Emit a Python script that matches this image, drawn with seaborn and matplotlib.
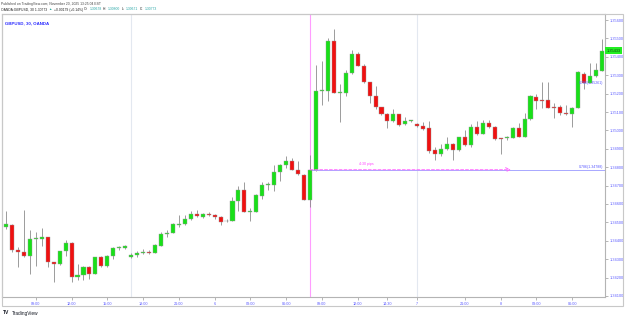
import matplotlib
matplotlib.use("Agg")
import matplotlib.pyplot as plt
import matplotlib.transforms as mtransforms
import numpy as np
import pandas as pd
import seaborn as sns
from matplotlib.patches import Rectangle

# GBPUSD 30 min candles
opens = [1.34472, 1.34487, 1.34351, 1.34336, 1.34315, 1.34409, 1.34409, 1.34420, 1.34284, 1.34271,
         1.34342, 1.34388, 1.34201, 1.34212, 1.34255, 1.34221, 1.34311, 1.34260, 1.34315, 1.34360,
         1.34362, 1.34311, 1.34320, 1.34333, 1.34339, 1.34333, 1.34374, 1.34438, 1.34442, 1.34487,
         1.34492, 1.34518, 1.34545, 1.34529, 1.34547, 1.34541, 1.34527, 1.34505, 1.34510, 1.34617,
         1.34675, 1.34556, 1.34556, 1.34643, 1.34702, 1.34702, 1.34773, 1.34813, 1.34833, 1.34786,
         1.34758, 1.34619, 1.34786, 1.35215, 1.35216, 1.35486, 1.35202, 1.35205, 1.35314, 1.35415,
         1.35352, 1.35265, 1.35189, 1.35126, 1.35088, 1.35052, 1.35088, 1.35034, 1.35050, 1.35035,
         1.35026, 1.35015, 1.34894, 1.34871, 1.34898, 1.34925, 1.34894, 1.34963, 1.34921, 1.35017,
         1.34981, 1.35039, 1.35021, 1.34958, 1.34958, 1.34961, 1.35015, 1.34966, 1.35062, 1.35184,
         1.35166, 1.35166, 1.35126, 1.35126, 1.35093, 1.35090, 1.35120, 1.35307, 1.35260, 1.35296,
         1.35325]
highs = [1.34559, 1.34491, 1.34367, 1.34568, 1.34456, 1.34445, 1.34469, 1.34422, 1.34286, 1.34343,
         1.34405, 1.34391, 1.34273, 1.34260, 1.34260, 1.34313, 1.34315, 1.34320, 1.34364, 1.34374,
         1.34378, 1.34333, 1.34342, 1.34357, 1.34351, 1.34380, 1.34450, 1.34460, 1.34499, 1.34541,
         1.34541, 1.34559, 1.34568, 1.34550, 1.34554, 1.34545, 1.34532, 1.34518, 1.34640, 1.34695,
         1.34719, 1.34577, 1.34654, 1.34719, 1.34722, 1.34813, 1.34816, 1.34862, 1.34849, 1.34834,
         1.34762, 1.34867, 1.35356, 1.35379, 1.35501, 1.35551, 1.35252, 1.35328, 1.35437, 1.35426,
         1.35361, 1.35265, 1.35242, 1.35129, 1.35093, 1.35117, 1.35088, 1.35075, 1.35055, 1.35039,
         1.35048, 1.35052, 1.34912, 1.34925, 1.34963, 1.34930, 1.34966, 1.35003, 1.35034, 1.35052,
         1.35057, 1.35057, 1.35024, 1.34958, 1.34970, 1.35021, 1.35039, 1.35093, 1.35193, 1.35198,
         1.35265, 1.35265, 1.35151, 1.35138, 1.35138, 1.35129, 1.35325, 1.35316, 1.35365, 1.35368,
         1.35495]
lows = [1.34465, 1.34340, 1.34259, 1.34313, 1.34221, 1.34260, 1.34374, 1.34257, 1.34176, 1.34270,
        1.34315, 1.34176, 1.34188, 1.34188, 1.34194, 1.34219, 1.34257, 1.34259, 1.34302, 1.34351,
        1.34357, 1.34306, 1.34311, 1.34328, 1.34328, 1.34331, 1.34374, 1.34423, 1.34442, 1.34474,
        1.34487, 1.34514, 1.34529, 1.34523, 1.34536, 1.34519, 1.34485, 1.34502, 1.34510, 1.34564,
        1.34556, 1.34505, 1.34556, 1.34626, 1.34677, 1.34673, 1.34726, 1.34795, 1.34782, 1.34758,
        1.34619, 1.34583, 1.34780, 1.35138, 1.35162, 1.35202, 1.35048, 1.35187, 1.35307, 1.35352,
        1.35256, 1.35151, 1.35115, 1.35084, 1.35012, 1.35048, 1.35024, 1.35030, 1.35048, 1.35021,
        1.35003, 1.34876, 1.34840, 1.34863, 1.34894, 1.34840, 1.34890, 1.34917, 1.34912, 1.34976,
        1.34979, 1.35012, 1.34948, 1.34871, 1.34948, 1.34958, 1.34966, 1.34966, 1.35057, 1.35115,
        1.35120, 1.35120, 1.35066, 1.35084, 1.35084, 1.35021, 1.35120, 1.35224, 1.35256, 1.35292,
        1.35325]
closes = [1.34491, 1.34347, 1.34336, 1.34315, 1.34411, 1.34416, 1.34422, 1.34282, 1.34271, 1.34342,
          1.34388, 1.34201, 1.34215, 1.34255, 1.34221, 1.34311, 1.34260, 1.34318, 1.34360, 1.34366,
          1.34369, 1.34324, 1.34333, 1.34340, 1.34335, 1.34378, 1.34438, 1.34443, 1.34492, 1.34492,
          1.34519, 1.34547, 1.34532, 1.34545, 1.34540, 1.34527, 1.34503, 1.34510, 1.34617, 1.34675,
          1.34556, 1.34559, 1.34646, 1.34704, 1.34706, 1.34773, 1.34813, 1.34833, 1.34786, 1.34762,
          1.34619, 1.34786, 1.35215, 1.35220, 1.35486, 1.35202, 1.35207, 1.35314, 1.35415, 1.35352,
          1.35262, 1.35189, 1.35129, 1.35090, 1.35052, 1.35088, 1.35030, 1.35052, 1.35053, 1.35026,
          1.35006, 1.34890, 1.34871, 1.34898, 1.34927, 1.34894, 1.34963, 1.34921, 1.35017, 1.34981,
          1.35039, 1.35017, 1.34954, 1.34952, 1.34966, 1.35015, 1.34966, 1.35062, 1.35187, 1.35162,
          1.35162, 1.35124, 1.35124, 1.35093, 1.35090, 1.35120, 1.35316, 1.35260, 1.35296, 1.35328,
          1.35433]

time_ticks = [5, 11, 17, 23, 29, 35, 41, 47, 53, 59, 64, 69, 77, 83, 89, 95]
time_labels = ["09:00", "12:00", "15:00", "18:00", "21:00", "6", "03:00", "06:00",
               "09:00", "12:00", "14:30", "7", "21:00", "8", "03:00", "06:00"]
price_ticks = [1.341, 1.342, 1.343, 1.344, 1.345, 1.346, 1.347, 1.348,
               1.349, 1.350, 1.351, 1.352, 1.353, 1.354, 1.355, 1.356]
session_breaks = [21, 69]
event_bar = 51
fib_level = 1.34786
fib_level_hi = 1.35258

header_parts = [("OANDA:GBPUSD, 30 1.30773", "#222222"), ("▲", "#26a69a"),
                ("+0.00179 (+0.14%)", "#222222"),
                ("O:", "#222222"), ("1.30678", "#26a6a6"),
                ("H:", "#222222"), ("1.30800", "#26a6a6"),
                ("L:", "#222222"), ("1.30671", "#26a6a6"),
                ("C:", "#222222"), ("1.30773", "#26a6a6")]

sns.set_theme(style="white")
plt.rcParams["font.family"] = ["Liberation Sans", "DejaVu Sans"]

df = pd.DataFrame({"open": opens, "high": highs, "low": lows, "close": closes})
df["idx"] = np.arange(len(df))
df["up"] = df.close >= df.open
body_lo = np.minimum(df.open, df.close)
body_h = np.maximum((df.close - df.open).abs(), 0.00004)
colors = np.where(df.up, "#18e018", "#f01010")

fig = plt.figure(figsize=(6.25, 3.19), dpi=100)
ax = fig.add_axes([2 / 625, 22 / 319, 603 / 625, 283 / 319])

for b in session_breaks:
    ax.axvline(b, color="#e3e8f0", lw=0.8, zorder=1)
ax.axvline(event_bar, color="#ff9cff", lw=0.8, zorder=1)

ax.vlines(df.idx, df.low, df.high, color="#8c8c8c", lw=0.6, zorder=2)
ax.bar(df.idx, body_h, bottom=body_lo, width=0.68, color=colors,
       edgecolor="#9a9a9a", linewidth=0.3, zorder=3)

# fib line + measure arrow
ax.hlines(fib_level, event_bar, 101, color="#a8a8ff", lw=0.7, zorder=2)
ax.annotate("", xy=(84.7, fib_level), xytext=(event_bar, fib_level),
            arrowprops=dict(arrowstyle="->,head_length=0.5,head_width=0.25", color="#ff66ff",
                            lw=0.7, linestyle=(0, (3, 2)), shrinkA=0, shrinkB=0,
                            mutation_scale=6), zorder=4)
ax.text(60.4, 1.34817, "4:30 pips", color="#ff44ff", fontsize=2.6, ha="center", va="center")
ax.text(100.2, fib_level + 0.00004, "0.786(1.34788)", color="#5b5bff", fontsize=2.6,
        ha="right", va="bottom")
ax.text(100.2, fib_level_hi, "0.786(1.35261)", color="#5b5bff", fontsize=2.6,
        ha="right", va="center", zorder=5)
ax.text(0.005, 0.975, "GBPUSD, 30, OANDA", transform=ax.transAxes, color="#2b2bff",
        fontsize=3.2, fontweight="bold", ha="left", va="top")

ax.set_xlim(-0.67, 100.5)
ax.set_ylim(1.34094, 1.35633)
ax.set_xticks(time_ticks, time_labels)
ax.yaxis.tick_right()
ax.set_yticks(price_ticks, [f"{p:.5f}" for p in price_ticks])
ax.tick_params(axis="y", length=2, width=0.5, color="#999999", labelsize=2.8,
               labelcolor="#5b5bff", pad=1.5, right=True)
ax.tick_params(axis="x", length=2, width=0.5, color="#999999", labelsize=2.7,
               labelcolor="#5b5bff", pad=1.5, bottom=True)
for s in ax.spines.values():
    s.set_color("#b4b4b4")
    s.set_linewidth(0.8)
ax.grid(False)

# last price tag
trans = mtransforms.blended_transform_factory(ax.transAxes, ax.transData)
ax.text(1.003, closes[-1], f"{closes[-1]:.5f}", transform=trans, fontsize=2.8,
        color="#104010", ha="left", va="center", clip_on=False,
        bbox=dict(boxstyle="square,pad=0.35", fc="#22ee22", ec="none"))

fig.add_artist(Rectangle((2 / 625, 13 / 319), 621 / 625, 292 / 319, transform=fig.transFigure,
                         fill=False, edgecolor="#c8c8c8", lw=0.8))

fig.text(1 / 625, 1 - 3.5 / 319, "Published on TradingView.com, November 20, 2025 13:25:04 EST",
         fontsize=2.4, color="#444444", va="center")

# symbol line: pieces laid out one after another
renderer = fig.canvas.get_renderer()
hdr_y = 1 - 9.5 / 319
xpos = 1.0
for txt, col in header_parts:
    t = fig.text(xpos / 625, hdr_y, txt, fontsize=2.4, color=col, va="center",
                 family=["Liberation Sans", "DejaVu Sans"])
    xpos = t.get_window_extent(renderer).x1 + 1.5

fig.text(3 / 625, 1 - 313 / 319, "TV", fontsize=3.6, fontweight="bold", color="#131722", va="center")
fig.text(12 / 625, 1 - 313 / 319, "TradingView", fontsize=3.4, color="#131722", va="center")

fig.savefig("out.png", dpi=100)
